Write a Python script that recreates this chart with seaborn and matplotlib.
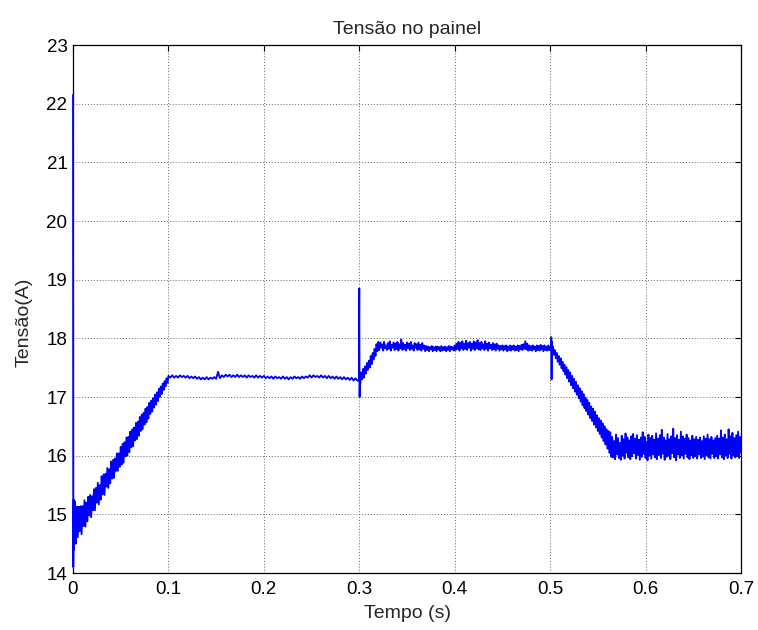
import numpy as np
import pandas as pd
import matplotlib
matplotlib.use("Agg")
import matplotlib.pyplot as plt
import seaborn as sns

# --- panel voltage trace, by operating interval ---------------------------
# start-up transient
startup_t = [0.0, 0.0003, 0.0008]
startup_v = [22.15, 14.10, 15.25]

# first ramp, 1 ms samples (0.001 s .. 0.100 s)
ramp1_span = (0.001, 0.100)
ramp1_v = [14.40, 15.22, 14.50, 15.13, 14.61, 15.13, 14.71, 15.14, 14.66, 15.14,
           14.80, 15.24, 14.79, 15.20, 14.88, 15.30, 14.98, 15.33, 14.95, 15.31,
           15.07, 15.43, 15.07, 15.45, 15.20, 15.54, 15.17, 15.50, 15.25, 15.65,
           15.34, 15.68, 15.33, 15.69, 15.47, 15.79, 15.45, 15.77, 15.53, 15.90,
           15.61, 15.93, 15.62, 15.95, 15.74, 16.04, 15.74, 16.04, 15.81, 16.15,
           15.85, 16.20, 15.88, 16.23, 15.99, 16.31, 16.00, 16.32, 16.06, 16.41,
           16.14, 16.45, 16.16, 16.48, 16.26, 16.56, 16.28, 16.58, 16.34, 16.66,
           16.42, 16.70, 16.45, 16.73, 16.53, 16.80, 16.57, 16.83, 16.63, 16.90,
           16.71, 16.94, 16.75, 16.98, 16.82, 17.04, 16.87, 17.08, 16.93, 17.14,
           17.00, 17.18, 17.05, 17.23, 17.12, 17.27, 17.18, 17.32, 17.24, 17.36]

# first plateau, 2 ms samples (0.102 s .. 0.298 s)
flat1_span = (0.102, 0.298)
flat1_v = [17.33, 17.37, 17.33, 17.36, 17.33, 17.37, 17.34, 17.36, 17.33, 17.36,
           17.32, 17.35, 17.32, 17.35, 17.31, 17.34, 17.30, 17.33, 17.30, 17.34,
           17.30, 17.33, 17.31, 17.34, 17.31, 17.43, 17.32, 17.37, 17.34, 17.38,
           17.35, 17.38, 17.34, 17.37, 17.34, 17.38, 17.34, 17.37, 17.34, 17.37,
           17.33, 17.37, 17.34, 17.36, 17.33, 17.37, 17.33, 17.36, 17.33, 17.36,
           17.32, 17.35, 17.32, 17.35, 17.31, 17.35, 17.32, 17.34, 17.31, 17.35,
           17.31, 17.34, 17.30, 17.34, 17.31, 17.35, 17.32, 17.34, 17.31, 17.35,
           17.32, 17.35, 17.33, 17.37, 17.33, 17.37, 17.34, 17.36, 17.33, 17.37,
           17.33, 17.36, 17.32, 17.36, 17.32, 17.35, 17.31, 17.35, 17.31, 17.34,
           17.30, 17.34, 17.30, 17.33, 17.29, 17.33, 17.28, 17.32, 17.28]

# irradiance step at 0.3 s
step1_t = [0.2995, 0.3000, 0.3003, 0.3007]
step1_v = [17.28, 18.85, 17.00, 17.32]

# second ramp, 1 ms samples (0.301 s .. 0.320 s)
ramp2_span = (0.301, 0.320)
ramp2_v = [17.22, 17.42, 17.30, 17.48, 17.33, 17.52, 17.40, 17.58, 17.46, 17.62,
           17.50, 17.70, 17.56, 17.75, 17.64, 17.82, 17.70, 17.90, 17.78, 17.94]

# second plateau, 1 ms samples (0.321 s .. 0.499 s)
flat2_span = (0.321, 0.499)
flat2_v = [17.80, 17.93, 17.84, 17.90, 17.79, 17.94, 17.83, 17.88, 17.80, 17.92,
           17.82, 17.95, 17.79, 17.89, 17.84, 17.93, 17.80, 17.91, 17.82, 17.94,
           17.79, 17.90, 17.83, 17.98, 17.80, 17.92, 17.81, 17.89, 17.79, 17.93,
           17.83, 17.91, 17.80, 17.94, 17.82, 17.88, 17.79, 17.92, 17.84, 17.90,
           17.80, 17.93, 17.81, 17.89, 17.79, 17.92, 17.82, 17.88, 17.78, 17.87,
           17.80, 17.86, 17.78, 17.85, 17.81, 17.87, 17.78, 17.85, 17.80, 17.86,
           17.78, 17.86, 17.81, 17.85, 17.78, 17.87, 17.79, 17.85, 17.80, 17.86,
           17.78, 17.85, 17.80, 17.87, 17.78, 17.86, 17.81, 17.85, 17.79, 17.88,
           17.80, 17.91, 17.82, 17.94, 17.79, 17.92, 17.83, 17.95, 17.80, 17.91,
           17.82, 17.96, 17.80, 17.92, 17.84, 17.94, 17.79, 17.91, 17.82, 17.95,
           17.80, 17.93, 17.83, 17.97, 17.81, 17.92, 17.80, 17.94, 17.83, 17.90,
           17.80, 17.95, 17.82, 17.91, 17.79, 17.93, 17.83, 17.89, 17.80, 17.92,
           17.81, 17.90, 17.79, 17.91, 17.82, 17.88, 17.79, 17.87, 17.81, 17.88,
           17.79, 17.87, 17.81, 17.88, 17.78, 17.86, 17.80, 17.88, 17.79, 17.87,
           17.81, 17.88, 17.79, 17.86, 17.80, 17.88, 17.78, 17.87, 17.81, 17.89,
           17.80, 17.90, 17.82, 17.95, 17.81, 17.91, 17.79, 17.88, 17.80, 17.87,
           17.79, 17.88, 17.81, 17.86, 17.78, 17.88, 17.80, 17.87, 17.79, 17.89,
           17.81, 17.87, 17.78, 17.88, 17.80, 17.86, 17.79, 17.88, 17.80]

# irradiance step at 0.5 s
step2_t = [0.4995, 0.5005, 0.5012, 0.5015, 0.5018, 0.5022]
step2_v = [17.86, 17.80, 18.02, 17.30, 17.95, 17.82]

# descent, 1 ms samples (0.503 s .. 0.564 s)
fall_span = (0.503, 0.564)
fall_v = [17.86, 17.72, 17.80, 17.66, 17.75, 17.60, 17.70, 17.55, 17.66, 17.49,
          17.60, 17.44, 17.55, 17.38, 17.51, 17.32, 17.46, 17.26, 17.42, 17.20,
          17.36, 17.15, 17.31, 17.09, 17.26, 17.04, 17.20, 16.98, 17.15, 16.92,
          17.10, 16.86, 17.05, 16.81, 16.99, 16.76, 16.95, 16.70, 16.90, 16.64,
          16.84, 16.59, 16.80, 16.53, 16.75, 16.48, 16.69, 16.42, 16.64, 16.37,
          16.60, 16.31, 16.55, 16.25, 16.50, 16.19, 16.45, 16.12, 16.42, 16.05,
          16.40, 15.98]

# final plateau, 1 ms samples (0.565 s .. 0.700 s)
tail_span = (0.565, 0.700)
tail_v = [16.32, 15.97, 16.25, 15.94, 16.36, 16.02, 16.30, 15.96, 16.22, 15.93,
          16.34, 16.00, 16.28, 15.95, 16.38, 16.05, 16.31, 15.97, 16.26, 15.94,
          16.33, 15.99, 16.37, 16.04, 16.29, 15.95, 16.35, 16.01, 16.27, 15.93,
          16.31, 15.98, 16.40, 16.03, 16.32, 15.96, 16.24, 15.92, 16.36, 16.00,
          16.30, 15.95, 16.34, 16.02, 16.27, 15.97, 16.38, 15.94, 16.29, 16.01,
          16.35, 15.96, 16.44, 16.03, 16.31, 15.93, 16.26, 15.98, 16.37, 16.00,
          16.28, 15.94, 16.33, 16.04, 16.46, 15.97, 16.30, 15.92, 16.35, 16.02,
          16.27, 15.96, 16.41, 16.00, 16.33, 15.95, 16.29, 16.03, 16.36, 15.97,
          16.30, 15.94, 16.26, 16.01, 16.34, 15.96, 16.28, 15.99, 16.32, 15.95,
          16.27, 16.02, 16.31, 15.96, 16.25, 15.98, 16.33, 15.94, 16.29, 16.01,
          16.36, 15.97, 16.28, 15.95, 16.32, 16.03, 16.26, 15.96, 16.30, 15.99,
          16.34, 15.95, 16.29, 16.02, 16.43, 15.97, 16.31, 15.94, 16.36, 16.00,
          16.28, 15.96, 16.45, 16.03, 16.33, 15.95, 16.39, 16.01, 16.30, 15.97,
          16.35, 15.99, 16.41, 15.96, 16.32, 16.05]

x_ticks = [0, 0.1, 0.2, 0.3, 0.4, 0.5, 0.6, 0.7]
x_tick_labels = ["0", "0.1", "0.2", "0.3", "0.4", "0.5", "0.6", "0.7"]
y_ticks = list(range(14, 24))


def sampled(span, values):
    """Evenly spaced sample instants over a span for a list of readings."""
    return list(np.linspace(span[0], span[1], len(values)))


t = (startup_t + sampled(ramp1_span, ramp1_v) + sampled(flat1_span, flat1_v)
     + step1_t + sampled(ramp2_span, ramp2_v) + sampled(flat2_span, flat2_v)
     + step2_t + sampled(fall_span, fall_v) + sampled(tail_span, tail_v))
v = (startup_v + ramp1_v + flat1_v + step1_v + ramp2_v + flat2_v
     + step2_v + fall_v + tail_v)
df = pd.DataFrame({"Tempo": t, "Tensao": v})

sns.set_style("white")
plt.rcParams["font.family"] = ["Liberation Sans", "DejaVu Sans"]

fig = plt.figure(figsize=(7.58, 6.30), dpi=100)
ax = fig.add_axes([73 / 758, 1 - 573 / 630, (741 - 73) / 758, (573 - 45) / 630])

sns.lineplot(data=df, x="Tempo", y="Tensao", estimator=None, sort=False,
             color="#0000ff", linewidth=1.3, ax=ax)
trace = ax.lines[-1]
trace.set_zorder(3)
trace.set_clip_on(False)

ax.set_xlim(0, 0.7)
ax.set_ylim(14, 23)
ax.set_xticks(x_ticks)
ax.set_xticklabels(x_tick_labels)
ax.set_yticks(y_ticks)

ax.grid(True, color="#666666", linestyle=(0, (1, 2)), linewidth=0.7)
ax.set_axisbelow(True)
for side in ax.spines.values():
    side.set_color("black")
    side.set_linewidth(0.9)
    side.set_visible(True)
    side.set_zorder(2.5)

ax.tick_params(direction="in", top=True, right=True, length=4, width=0.8,
               color="black", labelsize=13.5, labelcolor="black")
ax.tick_params(axis="x", pad=6)
ax.tick_params(axis="y", pad=4)

ax.set_title("Tensão no painel", fontsize=14, pad=8)
ax.set_xlabel("Tempo (s)", fontsize=14, labelpad=5)
ax.set_ylabel("Tensão(A)", fontsize=14)
ax.yaxis.set_label_coords(-0.061, 0.475)

fig.savefig("out.png", dpi=100)
